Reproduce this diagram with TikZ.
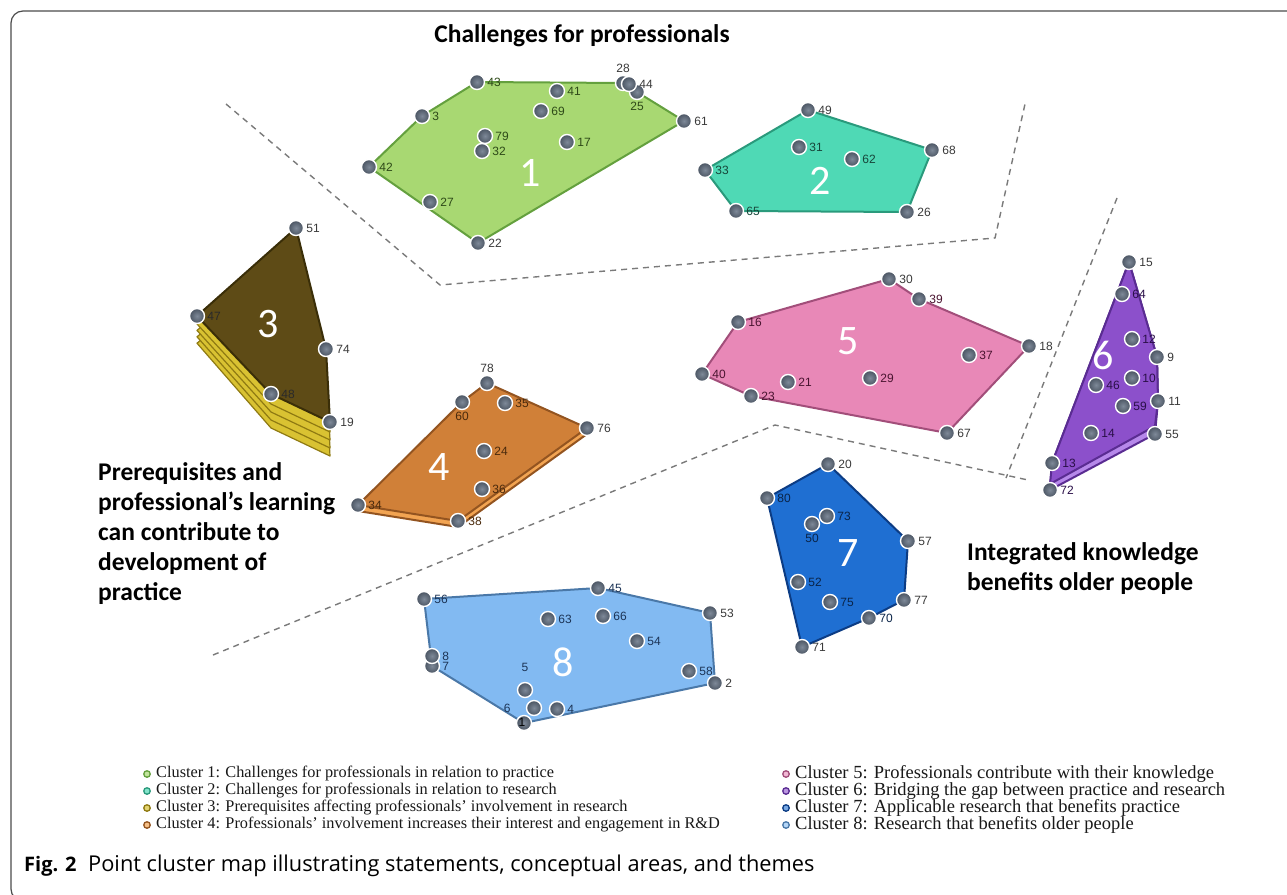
\documentclass[tikz,border=0pt]{standalone}
\usepackage{fontspec}
\setmainfont{Liberation Serif}
\newfontfamily\lsans{Liberation Sans}
\newfontfamily\carl{Carlito}
\newfontfamily\osans{Open Sans}
\definecolor{ptc}{HTML}{5B6676}
\definecolor{ptin}{HTML}{7E8998}
\definecolor{ptout}{HTML}{4A5462}
\definecolor{sepc}{HTML}{7A7A7A}
\definecolor{fA}{HTML}{A8D872}\definecolor{eA}{HTML}{64A03E}\definecolor{tA}{HTML}{2E4A18}
\definecolor{fB}{HTML}{4FD9B5}\definecolor{eB}{HTML}{2A9A7C}\definecolor{tB}{HTML}{17463A}
\definecolor{fC}{HTML}{5E4B16}\definecolor{eC}{HTML}{3A2E08}\definecolor{yC}{HTML}{D9C232}\definecolor{yE}{HTML}{8F7A12}\definecolor{tC}{HTML}{2A2A2A}
\definecolor{fD}{HTML}{D08038}\definecolor{eD}{HTML}{935420}\definecolor{lD}{HTML}{F2A452}\definecolor{tD}{HTML}{4A2A0C}
\definecolor{fE}{HTML}{E888B7}\definecolor{eE}{HTML}{A24E7A}\definecolor{tE}{HTML}{4A1430}
\definecolor{fF}{HTML}{8C50CB}\definecolor{eF}{HTML}{5A2C92}\definecolor{lF}{HTML}{B688EA}\definecolor{tF}{HTML}{2A0F48}
\definecolor{fG}{HTML}{1F6FD2}\definecolor{eG}{HTML}{0C3C84}\definecolor{tG}{HTML}{0A2448}
\definecolor{fH}{HTML}{82BAF2}\definecolor{eH}{HTML}{4A78A8}\definecolor{tH}{HTML}{1C3456}
\definecolor{tO}{HTML}{3A3A3A}
\newcommand\mydot[3]{\node[pt,label={[lbl,text=#3]#2:#1}] (n#1) at (p#1) {};}
\newcommand\sh[2]{([yshift=-#1pt]p#2)}
\begin{document}
\begin{tikzpicture}[x=1pt,y=-1pt,
  pt/.style={circle,minimum size=15pt,inner sep=0pt,shading=radial,inner color=ptin,outer color=ptout,draw=white,line width=1.4pt},
  lbl/.style={font=\lsans\fontsize{12}{12}\selectfont,inner sep=1pt,label distance=1pt},
  sepline/.style={sepc,dashed,dash pattern=on 6pt off 5pt,line width=1.4pt},
  poly/.style={line width=2pt,line join=round},
  big/.style={font=\carl\fontsize{42}{42}\selectfont,text=white},
  theme/.style={font=\carl\bfseries\fontsize{25.5}{30}\selectfont,text=black,align=left,inner sep=0pt},
  legl/.style={font=\fontsize{16.3}{17}\selectfont,anchor=west,inner sep=0pt,text=black!90},
  legr/.style={font=\fontsize{18.5}{17}\selectfont,anchor=west,inner sep=0pt,text=black!90},
  bul/.style={circle,minimum size=6.5pt,inner sep=0pt,line width=1.3pt}]
\useasboundingbox (0,0) rectangle (1287,894);
\fill[white] (0,0) rectangle (1287,894);
% frame
\draw[black!70,line width=1.2pt,rounded corners=12pt] (1300,11) -- (11,11) -- (11,901) -- (60,901);
% separators
\draw[sepline] (226,104) -- (440,285) -- (995,238) -- (1025,104);
\draw[sepline] (1117,198) -- (1006,478);
\draw[sepline] (213,655) -- (775,425) -- (1028,480);
% coordinates
% cluster 1
\coordinate (p43) at (477,82);\coordinate (p41) at (557,91);\coordinate (p69) at (541,111);
\coordinate (p79) at (485,136);\coordinate (p32) at (482,151);\coordinate (p17) at (567,142);
\coordinate (p3) at (422,116);\coordinate (p42) at (369,167);\coordinate (p27) at (430,202);
\coordinate (p22) at (478,243);\coordinate (p28) at (623,83);\coordinate (p44) at (629,84);
\coordinate (p25) at (637,92);\coordinate (p61) at (684,121);
% cluster 2
\coordinate (p49) at (808,110);\coordinate (p31) at (799,147);\coordinate (p62) at (852,159);
\coordinate (p68) at (932,150);\coordinate (p33) at (705,170);\coordinate (p65) at (736,211);
\coordinate (p26) at (907,212);
% cluster 3
\coordinate (p51) at (296,228);\coordinate (p47) at (197,316);\coordinate (p74) at (326,349);
\coordinate (p48) at (271,394);\coordinate (p19) at (330,422);
% cluster 4
\coordinate (p78) at (487,383);\coordinate (p60) at (462,402);\coordinate (p35) at (505,403);
\coordinate (p76) at (587,428);\coordinate (p24) at (484,451);\coordinate (p36) at (482,489);
\coordinate (p34) at (358,505);\coordinate (p38) at (458,521);
% cluster 5
\coordinate (p30) at (889,279);\coordinate (p39) at (919,299);\coordinate (p16) at (738,322);
\coordinate (p18) at (1029,346);\coordinate (p37) at (969,355);\coordinate (p40) at (702,374);
\coordinate (p21) at (788,382);\coordinate (p29) at (870,378);\coordinate (p23) at (751,396);
\coordinate (p67) at (947,433);
% cluster 6
\coordinate (p15) at (1129,262);\coordinate (p64) at (1122,294);\coordinate (p12) at (1132,339);
\coordinate (p9) at (1157,357);\coordinate (p10) at (1132,378);\coordinate (p46) at (1096,385);
\coordinate (p11) at (1158,401);\coordinate (p59) at (1123,406);\coordinate (p14) at (1091,433);
\coordinate (p55) at (1155,434);\coordinate (p13) at (1052,463);\coordinate (p72) at (1050,490);
% cluster 7
\coordinate (p20) at (828,464);\coordinate (p80) at (767,498);\coordinate (p73) at (827,516);
\coordinate (p50) at (812,524);\coordinate (p57) at (908,541);\coordinate (p52) at (798,582);
\coordinate (p75) at (830,602);\coordinate (p77) at (904,600);\coordinate (p70) at (869,618);
\coordinate (p71) at (802,647);
% cluster 8
\coordinate (p45) at (598,588);\coordinate (p56) at (424,599);\coordinate (p53) at (710,613);
\coordinate (p63) at (548,619);\coordinate (p66) at (603,616);\coordinate (p54) at (637,641);
\coordinate (p8) at (432,656);\coordinate (p7) at (432,666);\coordinate (p58) at (689,671);
\coordinate (p2) at (715,683);\coordinate (p5) at (525,690);\coordinate (p6) at (534,708);
\coordinate (p4) at (557,709);\coordinate (p1) at (524,723);
% polygons
\filldraw[poly,fill=fA,draw=eA] (p43) -- (p28) -- (p25) -- (p61) -- (p22) -- (p42) -- (p3) -- cycle;
\filldraw[poly,fill=fB,draw=eB] (p49) -- (p68) -- (p26) -- (p65) -- (p33) -- cycle;
\foreach \k in {34,26,18,10}{
  \filldraw[line width=1.2pt,line join=round,fill=yC,draw=yE] \sh{\k}{51} -- \sh{\k}{74} -- \sh{\k}{19} -- \sh{\k}{48} -- ([yshift=-0.8*\k pt]p47) -- cycle;}
\filldraw[poly,fill=fC,draw=eC] (p51) -- (p74) -- (p19) -- (p48) -- (p47) -- cycle;
\filldraw[poly,fill=lD,draw=eD] \sh{6}{78} -- \sh{6}{76} -- \sh{6}{38} -- \sh{6}{34} -- \sh{6}{60} -- cycle;
\filldraw[poly,fill=fD,draw=eD] (p78) -- (p76) -- (p38) -- (p34) -- (p60) -- cycle;
\filldraw[poly,fill=fE,draw=eE] (p30) -- (p39) -- (p18) -- (p67) -- (p23) -- (p40) -- (p16) -- cycle;
\filldraw[poly,fill=lF,draw=eF] (p15) -- (p9) -- (p11) -- (p55) -- (p72) -- (p13) -- cycle;
\filldraw[poly,fill=fF,draw=eF] (p15) -- (p9) -- (p11) -- ([yshift=8pt]p55) -- ([yshift=6pt]p72) -- (p13) -- cycle;
\filldraw[poly,fill=fG,draw=eG] (p20) -- (p57) -- (p77) -- (p70) -- (p71) -- (p80) -- cycle;
\filldraw[poly,fill=fH,draw=eH] (p56) -- (p45) -- (p53) -- (p2) -- (p1) -- (p7) -- cycle;
% big numbers
\node[big] (num1) at (530,173) {1};
\node[big] (num2) at (820,181) {2};
\node[big] (num3) at (268,324) {3};
\node[big] (num4) at (439,467) {4};
\node[big] (num5) at (848,341) {5};
\node[big] (num6) at (1103,355) {6};
\node[big] (num7) at (848,553) {7};
\node[big] (num8) at (563,662) {8};
% points cluster 1
\mydot{43}{right}{tA}\mydot{41}{right}{tA}\mydot{69}{right}{tA}\mydot{79}{right}{tA}
\mydot{32}{right}{tA}\mydot{17}{right}{tA}\mydot{3}{right}{tA}\mydot{42}{right}{tA}
\mydot{27}{right}{tA}\mydot{22}{right}{tO}\mydot{28}{above}{tO}\mydot{25}{below}{tA}
\mydot{44}{right}{tO}\mydot{61}{right}{tO}
% cluster 2
\mydot{49}{right}{tO}\mydot{31}{right}{tB}\mydot{62}{right}{tB}\mydot{68}{right}{tO}
\mydot{33}{right}{tB}\mydot{65}{right}{tB}\mydot{26}{right}{tO}
% cluster 3
\mydot{51}{right}{tO}\mydot{47}{right}{tC}\mydot{74}{right}{tO}\mydot{48}{right}{tC}\mydot{19}{right}{tO}
% cluster 4
\mydot{78}{above}{tO}\mydot{60}{below}{tD}\mydot{35}{right}{tD}\mydot{76}{right}{tO}
\mydot{24}{right}{tD}\mydot{36}{right}{tD}\mydot{34}{right}{tD}\mydot{38}{right}{tD}
% cluster 5
\mydot{30}{right}{tO}\mydot{39}{right}{tE}\mydot{16}{right}{tE}\mydot{18}{right}{tO}
\mydot{37}{right}{tE}\mydot{40}{right}{tE}\mydot{21}{right}{tE}\mydot{29}{right}{tE}
\mydot{23}{right}{tE}\mydot{67}{right}{tO}
% cluster 6
\mydot{15}{right}{tO}\mydot{64}{right}{tF}\mydot{12}{right}{tF}\mydot{9}{right}{tO}
\mydot{10}{right}{tF}\mydot{46}{right}{tF}\mydot{11}{right}{tO}\mydot{59}{right}{tF}
\mydot{14}{right}{tF}\mydot{55}{right}{tO}\mydot{13}{right}{tF}\mydot{72}{right}{tF}
% cluster 7
\mydot{20}{right}{tO}\mydot{80}{right}{tG}\mydot{73}{right}{tG}\mydot{50}{below}{tG}
\mydot{57}{right}{tO}\mydot{52}{right}{tG}\mydot{75}{right}{tG}\mydot{77}{right}{tO}
\mydot{70}{right}{tG}\mydot{71}{right}{tO}
% cluster 8
\mydot{45}{right}{tH}\mydot{56}{right}{tH}\mydot{53}{right}{tO}\mydot{63}{right}{tH}
\mydot{66}{right}{tH}\mydot{54}{right}{tH}\mydot{7}{right}{tH}\mydot{8}{right}{tH}
\mydot{58}{right}{tH}\mydot{2}{right}{tO}\mydot{4}{right}{tH}
\node[pt,label={[lbl,text=tH,label distance=9pt]above:5}] (n5) at (p5) {};
\node[pt,label={[lbl,text=tH,label distance=14pt]left:6}] (n6) at (p6) {};
\node[pt] (n1) at (p1) {};
\node[lbl,text=black] (l1) at (522,722) {1};
% theme labels
\node[theme,anchor=north] (th1) at (582,24) {Challenges for professionals};
\node[theme,anchor=north west] (th2) at (98,462) {Prerequisites and\\professional’s learning\\can contribute to\\development of\\practice};
\node[theme,anchor=north west] (th3) at (967,542) {Integrated knowledge\\benefits older people};
% legend
\node[bul,fill=fA!70,draw=eA] (b1) at (147,774) {};
\node[bul,fill=fB!70,draw=eB] (b2) at (147,791) {};
\node[bul,fill=yC!70,draw=yE] (b3) at (147,808) {};
\node[bul,fill=lD!70,draw=eD] (b4) at (147,825) {};
\node[legl] (t1) at (156,774) {Cluster 1: Challenges for professionals in relation to practice};
\node[legl] (t2) at (156,791) {Cluster 2: Challenges for professionals in relation to research};
\node[legl] (t3) at (156,808) {Cluster 3: Prerequisites affecting professionals' involvement in research};
\node[legl] (t4) at (156,825) {Cluster 4: Professionals' involvement increases their interest and engagement in R\&D};
\node[bul,fill=fE!60,draw=eE] (b5) at (786,774) {};
\node[bul,fill=fF!60,draw=eF] (b6) at (786,791) {};
\node[bul,fill=fG!60,draw=eG] (b7) at (786,808) {};
\node[bul,fill=fH!60,draw=eH] (b8) at (786,825) {};
\node[legr] (t5) at (795,774) {Cluster 5: Professionals contribute with their knowledge};
\node[legr] (t6) at (795,791) {Cluster 6: Bridging the gap between practice and research};
\node[legr] (t7) at (795,808) {Cluster 7: Applicable research that benefits practice};
\node[legr] (t8) at (795,825) {Cluster 8: Research that benefits older people};
% caption
\node[anchor=west,inner sep=0pt,font=\osans\bfseries\fontsize{20}{22}\selectfont] (fig) at (24,866) {Fig. 2};
\node[anchor=west,inner sep=0pt,font=\osans\fontsize{21.8}{24}\selectfont] (cap) at (88,866) {Point cluster map illustrating statements, conceptual areas, and themes};
\end{tikzpicture}
\end{document}
